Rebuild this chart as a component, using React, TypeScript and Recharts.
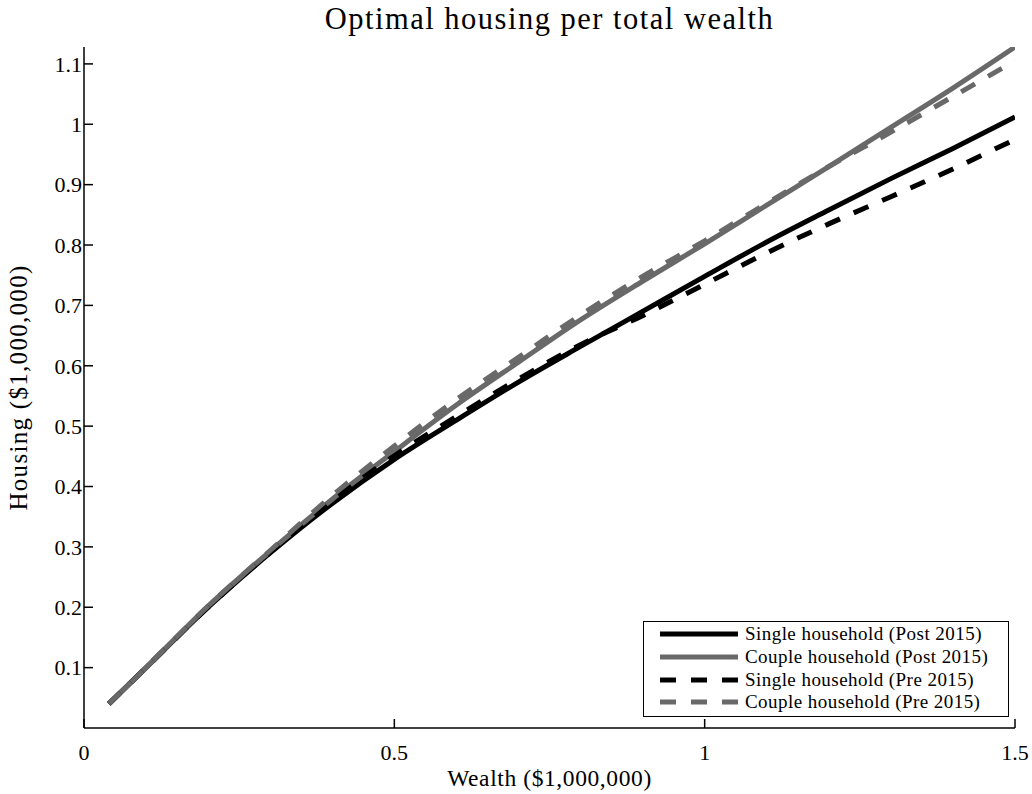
import React from 'react';
import { LineChart, Line, XAxis, YAxis, Legend, Label } from 'recharts';

const wealth = [0.04, 0.1, 0.2, 0.3, 0.4, 0.5, 0.6, 0.7, 0.8, 0.9, 1.0, 1.1, 1.2, 1.3, 1.4, 1.5];
const singlePost = [0.04, 0.1, 0.2, 0.29, 0.372, 0.445, 0.51, 0.573, 0.632, 0.69, 0.748, 0.805, 0.858, 0.91, 0.96, 1.012];
const couplePost = [0.04, 0.1, 0.202, 0.293, 0.379, 0.458, 0.535, 0.606, 0.676, 0.74, 0.802, 0.866, 0.93, 0.995, 1.06, 1.128];
const singlePre = [0.04, 0.1, 0.2, 0.291, 0.376, 0.451, 0.516, 0.578, 0.635, 0.683, 0.735, 0.787, 0.835, 0.88, 0.926, 0.975];
const couplePre = [0.04, 0.1, 0.202, 0.294, 0.385, 0.467, 0.544, 0.614, 0.684, 0.748, 0.807, 0.869, 0.93, 0.987, 1.046, 1.105];

const xTicks = [0, 0.5, 1, 1.5];
const yTicks = [0.1, 0.2, 0.3, 0.4, 0.5, 0.6, 0.7, 0.8, 0.9, 1, 1.1];

const seriesNames = [
  'Single household (Post 2015)',
  'Couple household (Post 2015)',
  'Single household (Pre 2015)',
  'Couple household (Pre 2015)',
];

const data = wealth.map((w, i) => ({
  w,
  singlePost: singlePost[i],
  couplePost: couplePost[i],
  singlePre: singlePre[i],
  couplePre: couplePre[i],
}));

const FONT = '"Liberation Serif", "Times New Roman", serif';
const BLACK = '#000000';
const GRAY = '#696969';
const DASH = '16 15';

const renderLegend = (props: any) => {
  const payload = [...(props.payload || [])].sort(
    (a: any, b: any) => seriesNames.indexOf(a.value) - seriesNames.indexOf(b.value)
  );
  return (
    <div
      style={{
        border: '1.5px solid #000',
        background: '#fff',
        padding: '1px 0 2px 0',
        width: 366,
        boxSizing: 'border-box',
        fontFamily: FONT,
      }}
    >
      {payload.map((p: any, i: number) => (
        <div key={i} style={{ display: 'flex', alignItems: 'center', height: 22.7 }}>
          <svg width={100} height={10} style={{ display: 'block', flex: 'none' }}>
            <line
              x1={16}
              x2={94}
              y1={5}
              y2={5}
              stroke={p.color}
              strokeWidth={5}
              strokeDasharray={p.payload && p.payload.strokeDasharray ? p.payload.strokeDasharray : undefined}
            />
          </svg>
          <span style={{ fontSize: 19, letterSpacing: 0.45, color: '#000', marginLeft: 1, whiteSpace: 'nowrap' }}>
            {p.value}
          </span>
        </div>
      ))}
    </div>
  );
};

export default function App() {
  return (
    <div style={{ position: 'absolute', top: 0, left: 0, width: 1032, height: 794, overflow: 'hidden' }}>
      <LineChart
        width={1032}
        height={794}
        data={data}
        margin={{ top: 47, right: 17, bottom: 0, left: 14 }}
      >
        <text
          x={549.5}
          y={19}
          textAnchor="middle"
          dominantBaseline="central"
          style={{ fontFamily: FONT, fontSize: 30.5, letterSpacing: 1.5, fill: '#000' }}
        >
          Optimal housing per total wealth
        </text>
        <XAxis
          dataKey="w"
          type="number"
          domain={[0, 1.5]}
          ticks={xTicks}
          height={66}
          tickSize={-9}
          tickMargin={25}
          axisLine={{ stroke: '#000', strokeWidth: 1.5 }}
          tickLine={{ stroke: '#000', strokeWidth: 1.5 }}
          tick={{ fill: '#000', fontSize: 22, fontFamily: FONT }}
          allowDataOverflow
        >
          <Label
            value="Wealth ($1,000,000)"
            position="insideBottom"
            offset={8}
            style={{ fontFamily: FONT, fontSize: 23.5, letterSpacing: 0.6, fill: '#000' }}
          />
        </XAxis>
        <YAxis
          type="number"
          domain={[0, 1.128]}
          ticks={yTicks}
          width={70}
          tickSize={-9}
          tickMargin={11}
          axisLine={{ stroke: '#000', strokeWidth: 1.5 }}
          tickLine={{ stroke: '#000', strokeWidth: 1.5 }}
          tick={{ fill: '#000', fontSize: 22, fontFamily: FONT }}
          allowDataOverflow
        >
          <Label
            value="Housing ($1,000,000)"
            angle={-90}
            position="insideLeft"
            offset={4}
            style={{ fontFamily: FONT, fontSize: 25, letterSpacing: 1.3, fill: '#000', textAnchor: 'middle' }}
          />
        </YAxis>
        <Legend
          layout="vertical"
          verticalAlign="middle"
          align="center"
          content={renderLegend}
          wrapperStyle={{ position: 'absolute', left: 643, top: 621, width: 366, height: 'auto' }}
        />
        <Line
          dataKey="singlePost"
          name={seriesNames[0]}
          stroke={BLACK}
          strokeWidth={5}
          dot={false}
          type="monotone"
          isAnimationActive={false}
        />
        <Line
          dataKey="couplePost"
          name={seriesNames[1]}
          stroke={GRAY}
          strokeWidth={5}
          dot={false}
          type="monotone"
          isAnimationActive={false}
        />
        <Line
          dataKey="singlePre"
          name={seriesNames[2]}
          stroke={BLACK}
          strokeWidth={5}
          strokeDasharray={DASH}
          dot={false}
          type="monotone"
          isAnimationActive={false}
        />
        <Line
          dataKey="couplePre"
          name={seriesNames[3]}
          stroke={GRAY}
          strokeWidth={5}
          strokeDasharray={DASH}
          dot={false}
          type="monotone"
          isAnimationActive={false}
        />
      </LineChart>
    </div>
  );
}
